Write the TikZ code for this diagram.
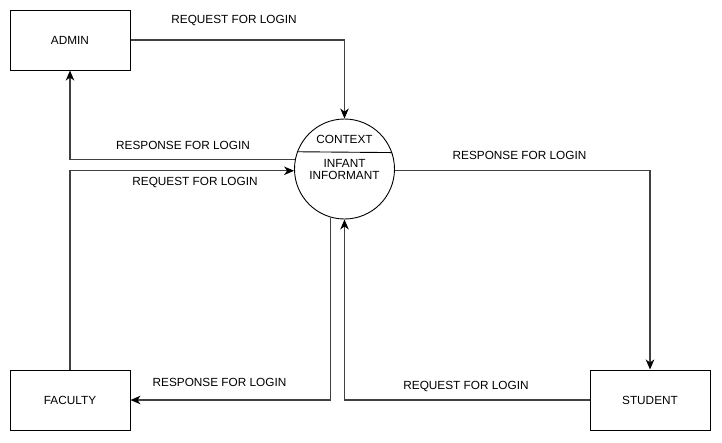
\documentclass[tikz,border=0pt]{standalone}
\usepackage{fontspec}
\setmainfont{Liberation Sans}
\usetikzlibrary{arrows.meta}
\begin{document}
\begin{tikzpicture}[x=1pt,y=-1pt,
  font=\fontsize{11.8}{14}\selectfont,
  entity/.style={draw=black,line width=1pt,minimum width=120pt,minimum height=60pt,inner sep=0pt},
  proc/.style={draw=black,line width=0.9pt,circle,minimum size=100pt,inner sep=0pt},
  flow/.style={draw=black!75,line width=1.1pt,-{Stealth[length=10pt,width=8.5pt,inset=3pt,fill=black,color=black]}},
  lbl/.style={inner sep=0pt,text=black}]
\useasboundingbox (0,0) rectangle (722,442);
\node[entity] (admin) at (70,40) {ADMIN};
\node[entity] (faculty) at (70,400) {FACULTY};
\node[entity] (student) at (650,400) {STUDENT};
\node[proc] (ctx) at (344.5,169) {};
\draw[line width=0.9pt] (ctx.160.6) -- (ctx.19.4);
\node[lbl] (ctxt) at (344.5,139) {CONTEXT};
\node[lbl,align=center] (infant) at (344.5,169.5) {INFANT\\[-1.5pt]INFORMANT};
% connectors
\draw[flow] (admin.east) -| (ctx.north);
\draw[flow] (ctx.169.6) -| (admin.south);
\draw[flow] (faculty.north) |- (ctx.182.3);
\draw[flow] (ctx.-2.3) -| (student.north);
\draw[flow] (ctx.-106.9) |- (faculty.east);
\draw[flow] (student.west) -| (ctx.south);
% labels
\node[lbl] (l1) at (234,20) {REQUEST FOR LOGIN};
\node[lbl] (l2) at (183,145) {RESPONSE FOR LOGIN};
\node[lbl] (l3) at (195,182.5) {REQUEST FOR LOGIN};
\node[lbl] (l4) at (519.5,155) {RESPONSE FOR LOGIN};
\node[lbl] (l5) at (219.5,382) {RESPONSE FOR LOGIN};
\node[lbl] (l6) at (466,386) {REQUEST FOR LOGIN};
\end{tikzpicture}
\end{document}
